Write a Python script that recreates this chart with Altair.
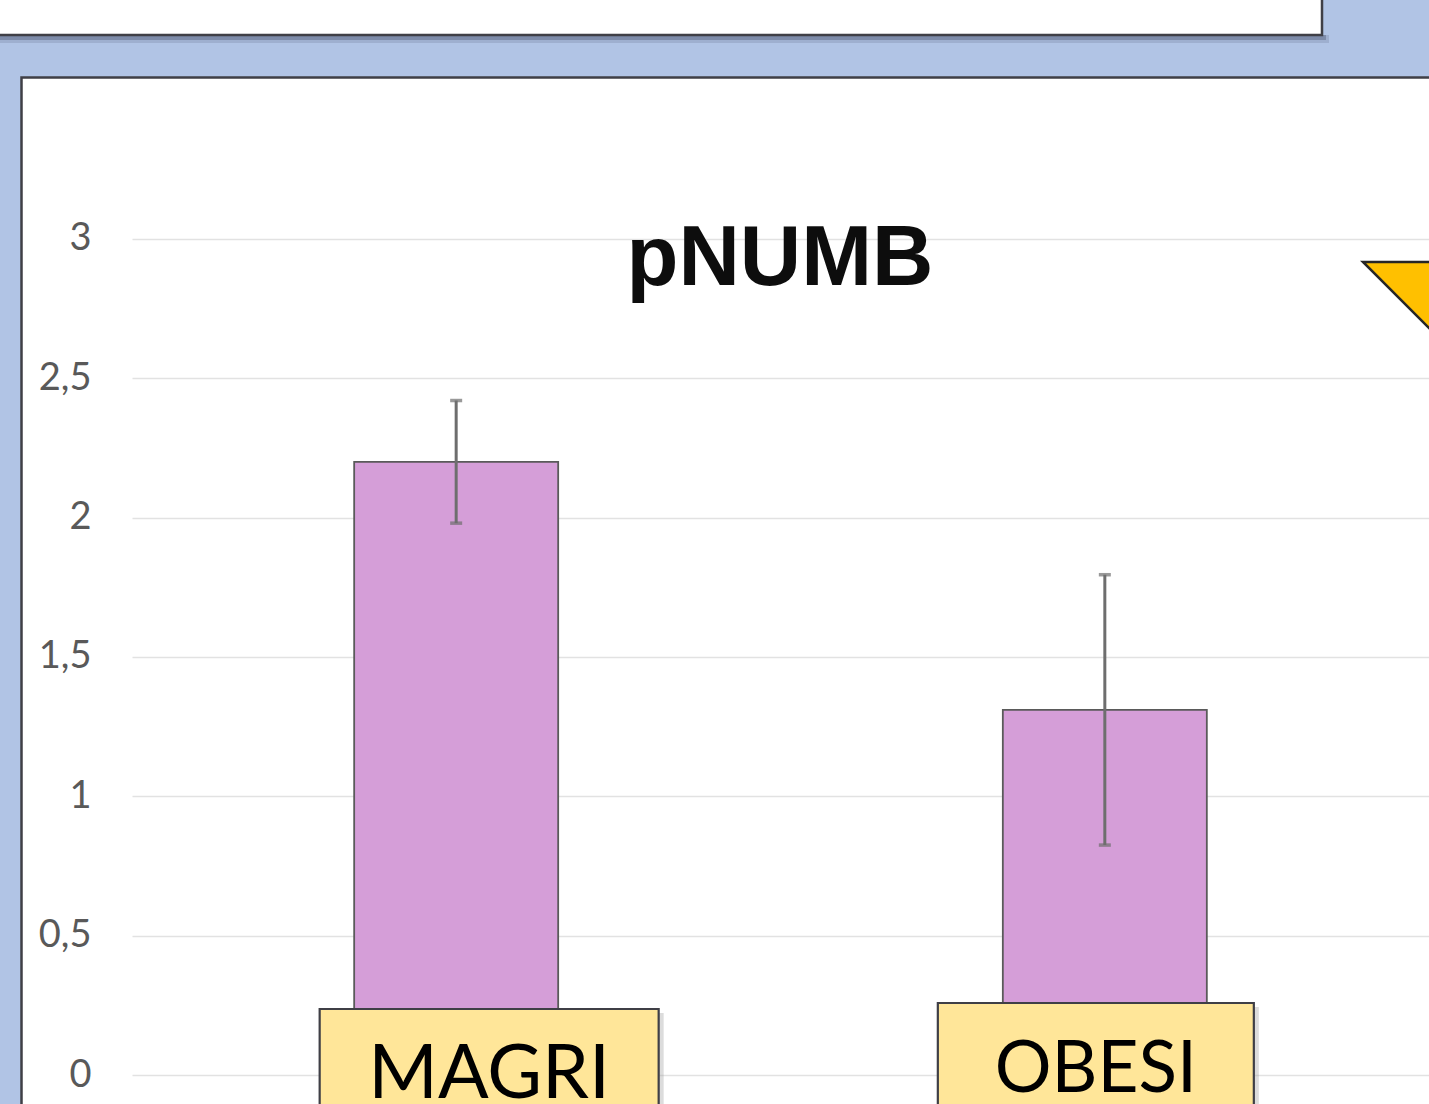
import altair as alt
import pandas as pd

# ---- data ----
categories = ["MAGRI", "OBESI"]
means = [2.2, 1.31]
errors = [0.22, 0.485]
tick_values = [0, 0.5, 1, 1.5, 2, 2.5, 3]
title_text = ["pNUMB"]

df = pd.DataFrame({"group": categories, "mean": means, "err": errors})
df["lo"] = df["mean"] - df["err"]
df["hi"] = df["mean"] + df["err"]

PLOT_LEFT = 132
W = 1429 - PLOT_LEFT
H = 1104
BLUE = "#b1c4e5"
BORDER = "#3f3f46"

x_scale = alt.Scale(domain=categories, paddingInner=0.6855, paddingOuter=0.3425)
y_scale = alt.Scale(domain=[-0.104, 3.857], nice=False, zero=False)
y_axis = alt.Axis(
    values=tick_values, grid=True, gridColor="#e2e2e2", gridWidth=1.5,
    ticks=False, tickSize=0, domain=False, labelFont="Lato", labelFontSize=38,
    labelColor="#595959", labelPadding=41, labelBaseline="middle",
    labelExpr="replace(toString(datum.value), '.', ',')", title=None,
)
X = alt.X("group:N", scale=x_scale, axis=None)

one = alt.Chart(pd.DataFrame({"k": [0]}))

# slide decorations (pixel positions relative to plot area origin)
blue_top = one.mark_rect(color=BLUE).encode(
    x=alt.value(-PLOT_LEFT), x2=alt.value(W + 5), y=alt.value(0), y2=alt.value(78))
blue_left = one.mark_rect(color=BLUE).encode(
    x=alt.value(-PLOT_LEFT), x2=alt.value(22 - PLOT_LEFT), y=alt.value(78), y2=alt.value(H + 5))
shadow1 = one.mark_rect(color="#55607a", opacity=0.45).encode(
    x=alt.value(-PLOT_LEFT), x2=alt.value(1326 - PLOT_LEFT), y=alt.value(35), y2=alt.value(40))
shadow2 = one.mark_rect(color="#55607a", opacity=0.2).encode(
    x=alt.value(-PLOT_LEFT), x2=alt.value(1329 - PLOT_LEFT), y=alt.value(35), y2=alt.value(43))
top_box = one.mark_rect(fill="white", stroke=BORDER, strokeWidth=2.5).encode(
    x=alt.value(-PLOT_LEFT - 20), x2=alt.value(1322 - PLOT_LEFT), y=alt.value(-20), y2=alt.value(35))
panel_border = one.mark_rect(fill="white", fillOpacity=0, stroke=BORDER, strokeWidth=2.5).encode(
    x=alt.value(21.5 - PLOT_LEFT), x2=alt.value(W + 30), y=alt.value(77.5), y2=alt.value(H + 30))

base = alt.Chart(df)

bars = base.mark_bar(color="#d59ed8", stroke="#5a5a5a", strokeWidth=1.8).encode(
    x=X, y=alt.Y("mean:Q", scale=y_scale, axis=y_axis))
err_rule = base.mark_rule(color="#6e6e6e", strokeWidth=3).encode(
    x=X, y=alt.Y("lo:Q", scale=y_scale, axis=y_axis), y2="hi:Q")
cap_lo = base.mark_tick(color="#6e6e6e", size=12, thickness=3.5).encode(
    x=X, y=alt.Y("lo:Q", scale=y_scale, axis=y_axis))
cap_hi = base.mark_tick(color="#6e6e6e", size=12, thickness=3.5).encode(
    x=X, y=alt.Y("hi:Q", scale=y_scale, axis=y_axis))

def label_box(name, width, dx, top, baseline_y, fsize):
    sub = base.transform_filter(alt.datum.group == name)
    shadow = sub.mark_bar(width=width, xOffset=dx + 5, color="#9a9a9a", opacity=0.35).encode(
        x=X, y=alt.value(top + 4), y2=alt.value(H + 30))
    box = sub.mark_bar(width=width, xOffset=dx, color="#ffe699", stroke=BORDER, strokeWidth=2.2).encode(
        x=X, y=alt.value(top), y2=alt.value(H + 30))
    txt = sub.mark_text(font="Lato", fontSize=fsize, color="black", baseline="alphabetic",
                        align="center", xOffset=dx).encode(
        x=X, y=alt.value(baseline_y), text="group:N")
    return [shadow, box, txt]

magri = label_box("MAGRI", 339, 33, 1009, 1098, 75)
obesi = label_box("OBESI", 316, -9, 1003, 1092, 71)

title = alt.Chart(pd.DataFrame({"t": title_text})).mark_text(
    font="Liberation Sans", fontWeight="bold", fontSize=85, color="#0d0d0d",
    baseline="alphabetic", align="center").encode(
    x=alt.value(780 - PLOT_LEFT), y=alt.value(285), text="t:N")

triangle = one.mark_point(
    shape="M -1 -0.5 L 1 -0.5 L 0 0.5 Z", size=40000, filled=True, fill="#ffc000",
    stroke="#262626", strokeWidth=2.5, opacity=1).encode(
    x=alt.value(1463 - PLOT_LEFT), y=alt.value(312))

chart = alt.layer(
    blue_top, blue_left, shadow2, shadow1, top_box, panel_border,
    bars, err_rule, cap_lo, cap_hi, *magri, *obesi, title, triangle,
).properties(
    width=W, height=H,
    autosize=alt.AutoSizeParams(type="none"),
    padding={"left": PLOT_LEFT, "top": 0, "right": 0, "bottom": 0},
    background="white",
).configure_view(strokeWidth=0)

chart.save("out.html", embed_options={"renderer": "svg", "actions": False})
